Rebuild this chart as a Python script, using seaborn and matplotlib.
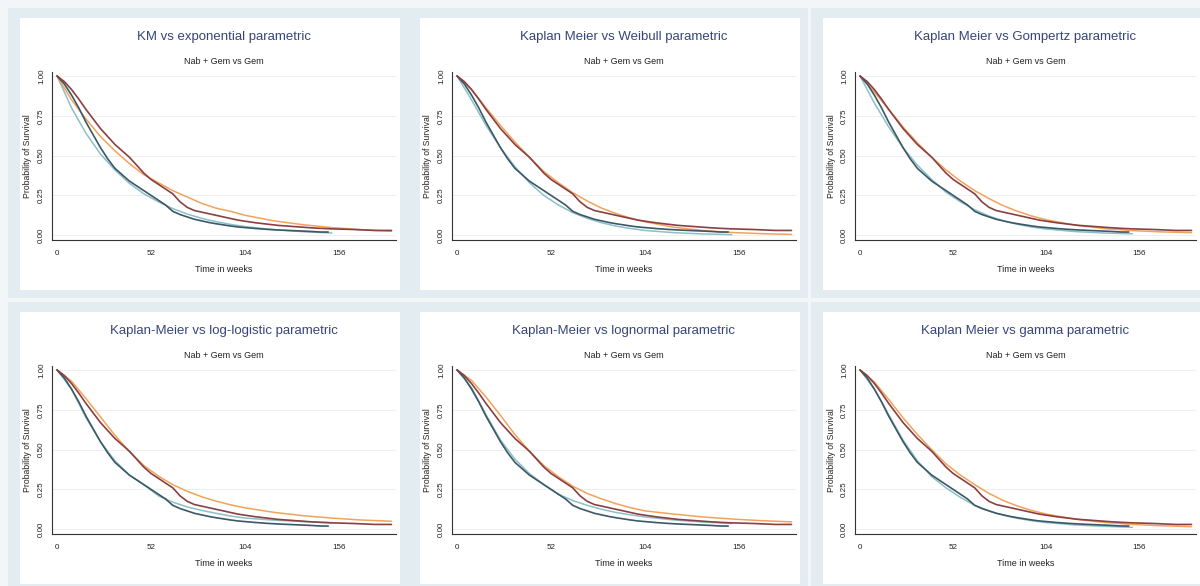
import matplotlib
matplotlib.use("Agg")
import matplotlib.pyplot as plt
import seaborn as sns
from matplotlib.patches import Rectangle

# Kaplan-Meier estimates (weeks, survival)
km_nab_weeks = [0, 4, 8, 12, 16, 20, 24, 28, 32, 36, 40, 44, 48, 52, 56, 60, 64, 68, 72, 76,
                80, 84, 88, 92, 96, 100, 104, 110, 116, 122, 128, 134, 140, 146, 152, 158,
                164, 170, 176, 185]
km_nab = [1.00, 0.965, 0.915, 0.855, 0.79, 0.73, 0.67, 0.62, 0.57, 0.53, 0.49, 0.44, 0.39, 0.35,
          0.32, 0.29, 0.26, 0.21, 0.175, 0.155, 0.145, 0.135, 0.125, 0.115, 0.105, 0.095, 0.088,
          0.078, 0.07, 0.062, 0.057, 0.052, 0.047, 0.043, 0.04, 0.038, 0.036, 0.033, 0.03, 0.03]
km_gem_weeks = [0, 4, 8, 12, 16, 20, 24, 28, 32, 36, 40, 44, 48, 52, 56, 60, 64, 68, 72, 76,
                80, 84, 88, 92, 96, 100, 104, 110, 116, 122, 128, 134, 140, 146, 150]
km_gem = [1.00, 0.95, 0.88, 0.80, 0.71, 0.63, 0.55, 0.48, 0.42, 0.38, 0.34, 0.31, 0.28, 0.25,
          0.22, 0.19, 0.15, 0.13, 0.115, 0.10, 0.09, 0.08, 0.072, 0.065, 0.058, 0.052, 0.048,
          0.042, 0.037, 0.033, 0.03, 0.027, 0.024, 0.02, 0.02]

# fitted parametric curves
fit_nab_weeks = [0, 8, 16, 24, 32, 40, 48, 56, 64, 72, 80, 88, 96, 104, 120, 136, 152, 168, 185]
fit_gem_weeks = [0, 8, 16, 24, 32, 40, 48, 56, 64, 72, 80, 88, 96, 104, 120, 136, 152]

exp_nab = [1.0, 0.85, 0.73, 0.62, 0.53, 0.45, 0.38, 0.33, 0.28, 0.24, 0.20, 0.17, 0.15, 0.125,
           0.09, 0.066, 0.048, 0.035, 0.025]
exp_gem = [1.0, 0.80, 0.64, 0.51, 0.41, 0.326, 0.26, 0.21, 0.167, 0.133, 0.106, 0.085, 0.068,
           0.054, 0.035, 0.022, 0.014]
weib_nab = [1.0, 0.915, 0.80, 0.69, 0.585, 0.49, 0.40, 0.33, 0.267, 0.215, 0.17, 0.136, 0.107,
            0.084, 0.05, 0.030, 0.017, 0.010, 0.005]
weib_gem = [1.0, 0.85, 0.69, 0.55, 0.43, 0.33, 0.25, 0.19, 0.142, 0.106, 0.078, 0.057, 0.042,
            0.030, 0.016, 0.008, 0.004]
gomp_nab = [1.0, 0.90, 0.79, 0.68, 0.58, 0.49, 0.41, 0.34, 0.28, 0.23, 0.185, 0.15, 0.12, 0.097,
            0.063, 0.042, 0.029, 0.021, 0.016]
gomp_gem = [1.0, 0.83, 0.68, 0.55, 0.44, 0.35, 0.27, 0.21, 0.16, 0.12, 0.09, 0.068, 0.051,
            0.039, 0.023, 0.014, 0.009]
llog_nab = [1.0, 0.93, 0.82, 0.705, 0.59, 0.488, 0.40, 0.334, 0.28, 0.238, 0.204, 0.176,
            0.153, 0.134, 0.106, 0.085, 0.070, 0.058, 0.050]
llog_gem = [1.0, 0.88, 0.70, 0.55, 0.43, 0.34, 0.28, 0.21, 0.17, 0.14, 0.118, 0.10, 0.083,
            0.07, 0.057, 0.048, 0.041]
lnorm_nab = [1.0, 0.935, 0.83, 0.715, 0.595, 0.49, 0.40, 0.33, 0.27, 0.225, 0.19, 0.16, 0.135,
             0.115, 0.095, 0.077, 0.064, 0.054, 0.046]
lnorm_gem = [1.0, 0.89, 0.72, 0.56, 0.44, 0.35, 0.28, 0.22, 0.18, 0.15, 0.125, 0.105, 0.09,
             0.077, 0.058, 0.045, 0.036]
gam_nab = [1.0, 0.925, 0.815, 0.70, 0.595, 0.50, 0.41, 0.34, 0.28, 0.225, 0.18, 0.145, 0.117,
           0.095, 0.063, 0.043, 0.030, 0.022, 0.016]
gam_gem = [1.0, 0.88, 0.72, 0.56, 0.43, 0.33, 0.26, 0.20, 0.15, 0.115, 0.088, 0.068, 0.053,
           0.042, 0.027, 0.018, 0.012]

titles = ["KM vs exponential parametric",
          "Kaplan Meier vs Weibull parametric",
          "Kaplan Meier vs Gompertz parametric",
          "Kaplan-Meier vs log-logistic parametric",
          "Kaplan-Meier vs lognormal parametric",
          "Kaplan Meier vs gamma parametric"]
fits = [(exp_nab, exp_gem), (weib_nab, weib_gem), (gomp_nab, gomp_gem),
        (llog_nab, llog_gem), (lnorm_nab, lnorm_gem), (gam_nab, gam_gem)]
subtitle = "Nab + Gem vs Gem"
x_ticks = [0, 52, 104, 156]
y_ticks = [0.00, 0.25, 0.50, 0.75, 1.00]

sns.set_style("white")
plt.rcParams['font.family'] = ['Liberation Sans', 'DejaVu Sans']

W, H = 1200, 586
fig = plt.figure(figsize=(W / 100, H / 100), dpi=100)
fig.patch.set_facecolor('#f3f6f8')

col_x = [20, 420, 823]
col_w = [380, 380, 377]
row_y = [18, 312]
box_h = 272

c_km_nab = '#8a3f42'
c_km_gem = '#3b5866'
c_fit_nab = '#f2a35a'
c_fit_gem = '#8cc0c8'


def frac(x, y, w, h):
    return [x / W, 1 - (y + h) / H, w / W, h / H]


for i, title in enumerate(titles):
    r, c = divmod(i, 3)
    bx, by, bw = col_x[c], row_y[r], col_w[c]
    # stata-like graph region and white inner region
    fig.add_artist(Rectangle(((bx - 12) / W, 1 - (by + box_h + 8) / H),
                             (bw + 20) / W, (box_h + 18) / H, transform=fig.transFigure,
                             facecolor='#e3ecf0', edgecolor='none', zorder=-2))
    fig.add_artist(Rectangle((bx / W, 1 - (by + box_h) / H), bw / W, box_h / H,
                             transform=fig.transFigure, facecolor='white',
                             edgecolor='none', zorder=-1))

    ax = fig.add_axes(frac(bx + 32, by + 54, bw - 36, 168))
    ax.set_facecolor('none')
    nab_fit, gem_fit = fits[i]

    sns.lineplot(x=fit_gem_weeks, y=gem_fit, ax=ax, color=c_fit_gem, lw=1.1)
    sns.lineplot(x=fit_nab_weeks, y=nab_fit, ax=ax, color=c_fit_nab, lw=1.1)
    sns.lineplot(x=km_gem_weeks, y=km_gem, ax=ax, color=c_km_gem, lw=1.2)
    sns.lineplot(x=km_nab_weeks, y=km_nab, ax=ax, color=c_km_nab, lw=1.2)

    ax.set_xlim(-2.8, 187.5)
    ax.set_ylim(-0.03, 1.025)
    ax.set_xticks(x_ticks)
    ax.set_yticks(y_ticks)
    ax.set_yticklabels([f"{v:.2f}" for v in y_ticks], rotation=90, va='center')
    ax.tick_params(axis='both', labelsize=5.8, length=3, width=0.6, color='#333333',
                   pad=2, labelcolor='#222222')
    ax.tick_params(axis='x', pad=4)
    ax.yaxis.grid(True, color='#ececec', lw=0.6)
    ax.xaxis.grid(False)
    for side in ['top', 'right']:
        ax.spines[side].set_visible(False)
    for side in ['left', 'bottom']:
        ax.spines[side].set_color('#333333')
        ax.spines[side].set_linewidth(0.8)
    ax.set_xlabel("Time in weeks", fontsize=6.5, color='#222222', labelpad=6)
    ax.set_ylabel("Probability of Survival", fontsize=6.2, color='#222222', labelpad=4)
    ax.text(0.5, 1.208, title, transform=ax.transAxes, ha='center', va='center',
            fontsize=9.5, color='#36457a')
    ax.text(0.5, 1.06, subtitle, transform=ax.transAxes, ha='center', va='center',
            fontsize=6.5, color='#222222')

fig.savefig("out.png", dpi=100, facecolor=fig.get_facecolor())
